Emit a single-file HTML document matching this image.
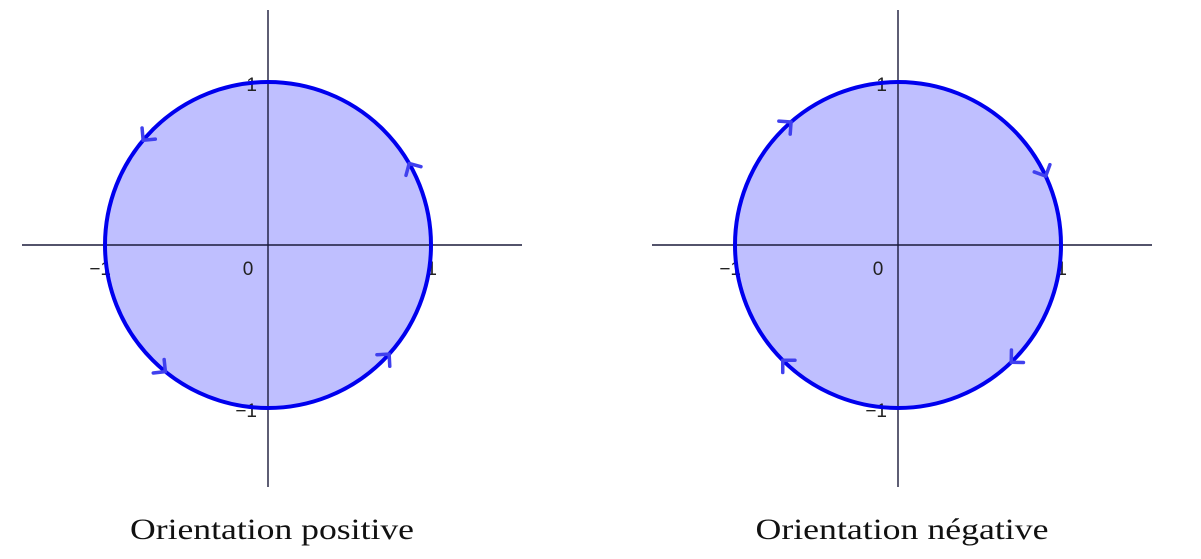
<!DOCTYPE html>
<html><head><meta charset="utf-8"><style>
html,body{margin:0;padding:0;background:#fff;}
svg{display:block;}
</style></head><body>
<svg id="chart" width="1201" height="559" viewBox="0 0 1201 559" xmlns="http://www.w3.org/2000/svg"></svg>
<script>
const panelNames = ["positive", "negative"];
const panelTitles = ["Orientation positive", "Orientation négative"];
const panelCenters = [268, 898];
const panelDirections = [1, -1];
const arrowAnglesPos = [140, 30, -42, -129];
const arrowAnglesNeg = [131, 25, -46, -135];
const tickValuesX = [-1, 0, 1];
const tickValuesY = [1, -1];
const radiusUnit = 1;

const NS = "http://www.w3.org/2000/svg";
const svg = document.getElementById("chart");
const cy = 245, scale = 163;
const titleWidths = [284, 293];
function mk(tag, attrs, parent){const e=document.createElementNS(NS,tag);for(const k in attrs)e.setAttribute(k,attrs[k]);(parent||svg).appendChild(e);return e;}

panelNames.forEach((name,i)=>{
  const cx = panelCenters[i];
  const sx = v => cx + v*scale;
  const sy = v => cy - v*scale;
  const g = mk("g",{});
  
  

  const disk = mk("circle",{cx:cx,cy:cy,r:radiusUnit*scale,fill:"#bfbfff",stroke:"none"},g);
  
  

  const xa = mk("line",{x1:cx-246,y1:cy,x2:cx+254,y2:cy,stroke:"#1a1a3a","stroke-width":1.4},g);
  
  
  const ya = mk("line",{x1:cx,y1:10,x2:cx,y2:487,stroke:"#1a1a3a","stroke-width":1.4},g);
  
  

  tickValuesX.forEach(v=>{
    const x = sx(v);
    const t = mk("text",{x:v===0?x-20:x+6,y:cy+30,"font-family":"Liberation Sans, sans-serif","font-size":19,fill:"#222","text-anchor":v===0?"middle":"end"},g);
    t.textContent = v<0 ? "\u2212"+Math.abs(v) : String(v);
    
    
  });
  tickValuesY.forEach(v=>{
    const y = sy(v);
    const t = mk("text",{x:cx-11,y:y+9,"font-family":"Liberation Sans, sans-serif","font-size":19,fill:"#222","text-anchor":"end"},g);
    t.textContent = v<0 ? "\u2212"+Math.abs(v) : String(v);
    
    
  });

  const c = mk("circle",{cx:cx,cy:cy,r:radiusUnit*scale,fill:"none",stroke:"#0000ee","stroke-width":4},g);
  
  

  const angles = i===0 ? arrowAnglesPos : arrowAnglesNeg;
  const dir = panelDirections[i];
  angles.forEach(a=>{
    const th = a*Math.PI/180;
    const px = cx + scale*Math.cos(th), py = cy - scale*Math.sin(th);
    const tx = -Math.sin(th)*dir, ty = -Math.cos(th)*dir;
    const nx = -ty, ny = tx, L = 12;
    const b1x = px - L*(tx - nx)*0.72, b1y = py - L*(ty - ny)*0.72;
    const b2x = px - L*(tx + nx)*0.72, b2y = py - L*(ty + ny)*0.72;
    const p = mk("path",{d:`M${b1x} ${b1y} L${px} ${py} L${b2x} ${b2y}`,fill:"none",stroke:"#4040ee","stroke-width":3.5,"stroke-linecap":"round","stroke-linejoin":"round"},g);
    
    
  });

  const title = mk("text",{x:cx+4,y:539,"font-family":"Liberation Serif, serif","font-size":30,fill:"#111","text-anchor":"middle",textLength:titleWidths[i],lengthAdjust:"spacingAndGlyphs"},g);
  title.textContent = panelTitles[i];
  
  
});
</script>
</body></html>
